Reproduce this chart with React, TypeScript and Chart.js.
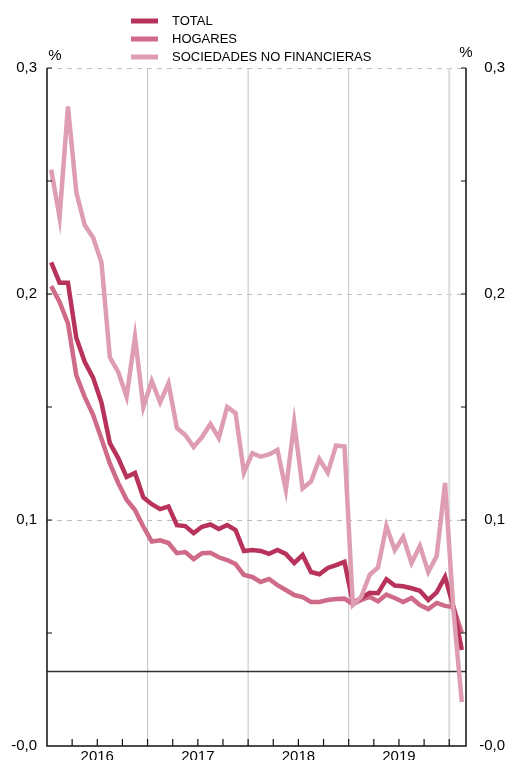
import React, { useEffect, useRef } from "react";
import { Chart, registerables } from "chart.js";

Chart.register(...registerables);

const years = ["2016", "2017", "2018", "2019"];
const yTickValues = [0, 0.1, 0.2, 0.3];
const yTickLabels = ["-0,0", "0,1", "0,2", "0,3"];
const legendLabels = ["TOTAL", "HOGARES", "SOCIEDADES NO FINANCIERAS"];
const unitLabel = "%";
const referenceLevel = 0.033;

// Monthly values, Jan 2016 .. Feb 2020
const total = [
  0.214, 0.205, 0.205, 0.1805, 0.17, 0.163, 0.152, 0.134, 0.1274, 0.119, 0.1208, 0.11,
  0.107, 0.1048, 0.106, 0.0977, 0.0973, 0.0942, 0.097, 0.098, 0.096, 0.0978, 0.0956, 0.0863,
  0.0867, 0.0863, 0.085, 0.0867, 0.085, 0.081, 0.0845, 0.077, 0.076, 0.0788, 0.08, 0.0815,
  0.0633, 0.0655, 0.0678, 0.0676, 0.0738, 0.071, 0.0707, 0.0698, 0.0687, 0.0646, 0.068, 0.0748,
  0.0615, 0.0425,
];
const hogares = [
  0.2035, 0.1965, 0.187, 0.164, 0.1545, 0.1465, 0.136, 0.125, 0.1164, 0.109, 0.1044, 0.097,
  0.0905, 0.091, 0.0898, 0.0853, 0.0858, 0.0827, 0.0853, 0.0855, 0.0835, 0.0823, 0.0805, 0.0757,
  0.0748, 0.0726, 0.0739, 0.0712, 0.069, 0.0668, 0.0659, 0.0637, 0.0637, 0.0646, 0.065, 0.0652,
  0.0628, 0.0646, 0.066, 0.064, 0.067, 0.0655, 0.0637, 0.0655, 0.0624, 0.0606, 0.0633, 0.062,
  0.0615, 0.05,
];
const sociedades = [
  0.255, 0.234, 0.283, 0.245, 0.2305, 0.225, 0.214, 0.172, 0.1655, 0.1545, 0.181, 0.15,
  0.1615, 0.152, 0.1605, 0.1407, 0.1376, 0.1323, 0.1367, 0.1425, 0.1363, 0.15, 0.1473, 0.121,
  0.1296, 0.128, 0.129, 0.131, 0.1133, 0.143, 0.114, 0.117, 0.127, 0.121, 0.133, 0.1325,
  0.0624, 0.066, 0.0757, 0.079, 0.0973, 0.0867, 0.0925, 0.081, 0.0885, 0.077, 0.084, 0.1164,
  0.06, 0.0195,
];

const colors = ["#b8335b", "#cf6a88", "#de9db1"];
const FONT = "'Liberation Sans', Arial, Helvetica, sans-serif";

const toPoints = (arr: number[]) => arr.map((v, i) => ({ x: i + 0.5, y: v }));

const decor = {
  id: "decor",
  beforeDatasetsDraw(chart: any) {
    const { ctx, chartArea: a, scales } = chart;
    const x = scales.x;
    const y = scales.y;
    ctx.save();
    // dashed horizontal grid
    ctx.setLineDash([5, 5]);
    ctx.strokeStyle = "#bdbdbd";
    ctx.lineWidth = 1;
    for (const v of yTickValues) {
      if (v === 0) continue;
      const py = Math.round(y.getPixelForValue(v)) + 0.5;
      ctx.beginPath();
      ctx.moveTo(a.left, py);
      ctx.lineTo(a.right, py);
      ctx.stroke();
    }
    ctx.setLineDash([]);
    // year boundaries
    for (let k = 1; k <= years.length; k++) {
      const px = x.getPixelForValue(12 * k);
      const last = k === years.length;
      ctx.strokeStyle = last ? "#dcdcdc" : "#c4c4c4";
      ctx.lineWidth = last ? 2 : 1;
      ctx.beginPath();
      ctx.moveTo(px, a.top);
      ctx.lineTo(px, a.bottom);
      ctx.stroke();
    }
    // reference line
    const ry = y.getPixelForValue(referenceLevel);
    ctx.strokeStyle = "#333";
    ctx.lineWidth = 1.5;
    ctx.beginPath();
    ctx.moveTo(a.left, ry);
    ctx.lineTo(a.right, ry);
    ctx.stroke();
    ctx.restore();
  },
  afterDraw(chart: any) {
    const { ctx, chartArea: a, scales } = chart;
    const x = scales.x;
    const y = scales.y;
    ctx.save();
    ctx.strokeStyle = "#111";
    ctx.lineWidth = 1.5;
    // axis lines
    ctx.beginPath();
    ctx.moveTo(a.left, a.top);
    ctx.lineTo(a.left, a.bottom);
    ctx.lineTo(a.right, a.bottom);
    ctx.lineTo(a.right, a.top);
    ctx.stroke();
    // y ticks (inward)
    ctx.lineWidth = 1.2;
    for (let v = 0.05; v <= 0.3001; v += 0.05) {
      const py = y.getPixelForValue(v);
      ctx.beginPath();
      ctx.moveTo(a.left, py);
      ctx.lineTo(a.left + 5, py);
      ctx.moveTo(a.right, py);
      ctx.lineTo(a.right - 5, py);
      ctx.stroke();
    }
    // x ticks (quarterly, inward)
    for (let m = 3; m <= 48; m += 3) {
      const px = x.getPixelForValue(m);
      ctx.beginPath();
      ctx.moveTo(px, a.bottom);
      ctx.lineTo(px, a.bottom - 7);
      ctx.stroke();
    }
    // year labels
    ctx.fillStyle = "#000";
    ctx.font = `15px ${FONT}`;
    ctx.textAlign = "center";
    ctx.textBaseline = "alphabetic";
    years.forEach((yr, k) => {
      ctx.fillText(yr, x.getPixelForValue(6 + 12 * k), a.bottom + 15);
    });
    // unit labels
    ctx.textBaseline = "middle";
    ctx.fillText(unitLabel, a.left + 8, 56);
    ctx.fillText(unitLabel, a.right, 53);
    // legend
    ctx.font = `13px ${FONT}`;
    ctx.textAlign = "left";
    legendLabels.forEach((lab, i) => {
      const ly = 21 + i * 18;
      ctx.strokeStyle = colors[i];
      ctx.lineWidth = 5;
      ctx.beginPath();
      ctx.moveTo(131, ly);
      ctx.lineTo(158, ly);
      ctx.stroke();
      ctx.fillStyle = "#000";
      ctx.fillText(lab, 172, ly + 0.5);
    });
    ctx.restore();
  },
};

const yAxis = (position: "left" | "right", width: number) => ({
  type: "linear" as const,
  position,
  min: 0,
  max: 0.3,
  afterBuildTicks: (scale: any) => {
    scale.ticks = yTickValues.map((v) => ({ value: v }));
  },
  afterFit: (scale: any) => {
    scale.width = width;
    scale.paddingTop = 0;
    scale.paddingBottom = 0;
  },
  grid: { display: false, drawTicks: false },
  border: { display: false },
  ticks: {
    padding: position === "left" ? 10 : 7,
    crossAlign: position === "left" ? "near" : "far",
    color: "#000",
    font: { family: FONT, size: 15 },
    callback: (_v: any, i: number) => yTickLabels[i],
  },
});

export default function App() {
  const ref = useRef<HTMLCanvasElement>(null);
  useEffect(() => {
    if (!ref.current) return;
    const chart = new Chart(ref.current, {
      type: "line",
      data: {
        datasets: [
          { label: legendLabels[0], data: toPoints(total), borderColor: colors[0], order: 1 },
          { label: legendLabels[1], data: toPoints(hogares), borderColor: colors[1], order: 2 },
          { label: legendLabels[2], data: toPoints(sociedades), borderColor: colors[2], order: 0 },
        ],
      },
      options: {
        animation: false,
        responsive: false,
        devicePixelRatio: 1,
        layout: { padding: { top: 68, bottom: 14, left: 0, right: 0 } },
        elements: {
          line: { borderWidth: 4.5, tension: 0, borderJoinStyle: "miter", borderCapStyle: "butt", fill: false },
          point: { radius: 0, hoverRadius: 0 },
        },
        plugins: { legend: { display: false }, tooltip: { enabled: false } },
        scales: {
          x: { type: "linear", min: 0, max: 50, display: false },
          y: yAxis("left", 47),
          y2: yAxis("right", 39),
        },
      },
      plugins: [decor],
    });
    return () => chart.destroy();
  }, []);
  return (
    <div style={{ position: "absolute", left: 0, top: 0, width: 505, height: 760 }}>
      <canvas ref={ref} width={505} height={760} style={{ display: "block", width: 505, height: 760 }} />
    </div>
  );
}
